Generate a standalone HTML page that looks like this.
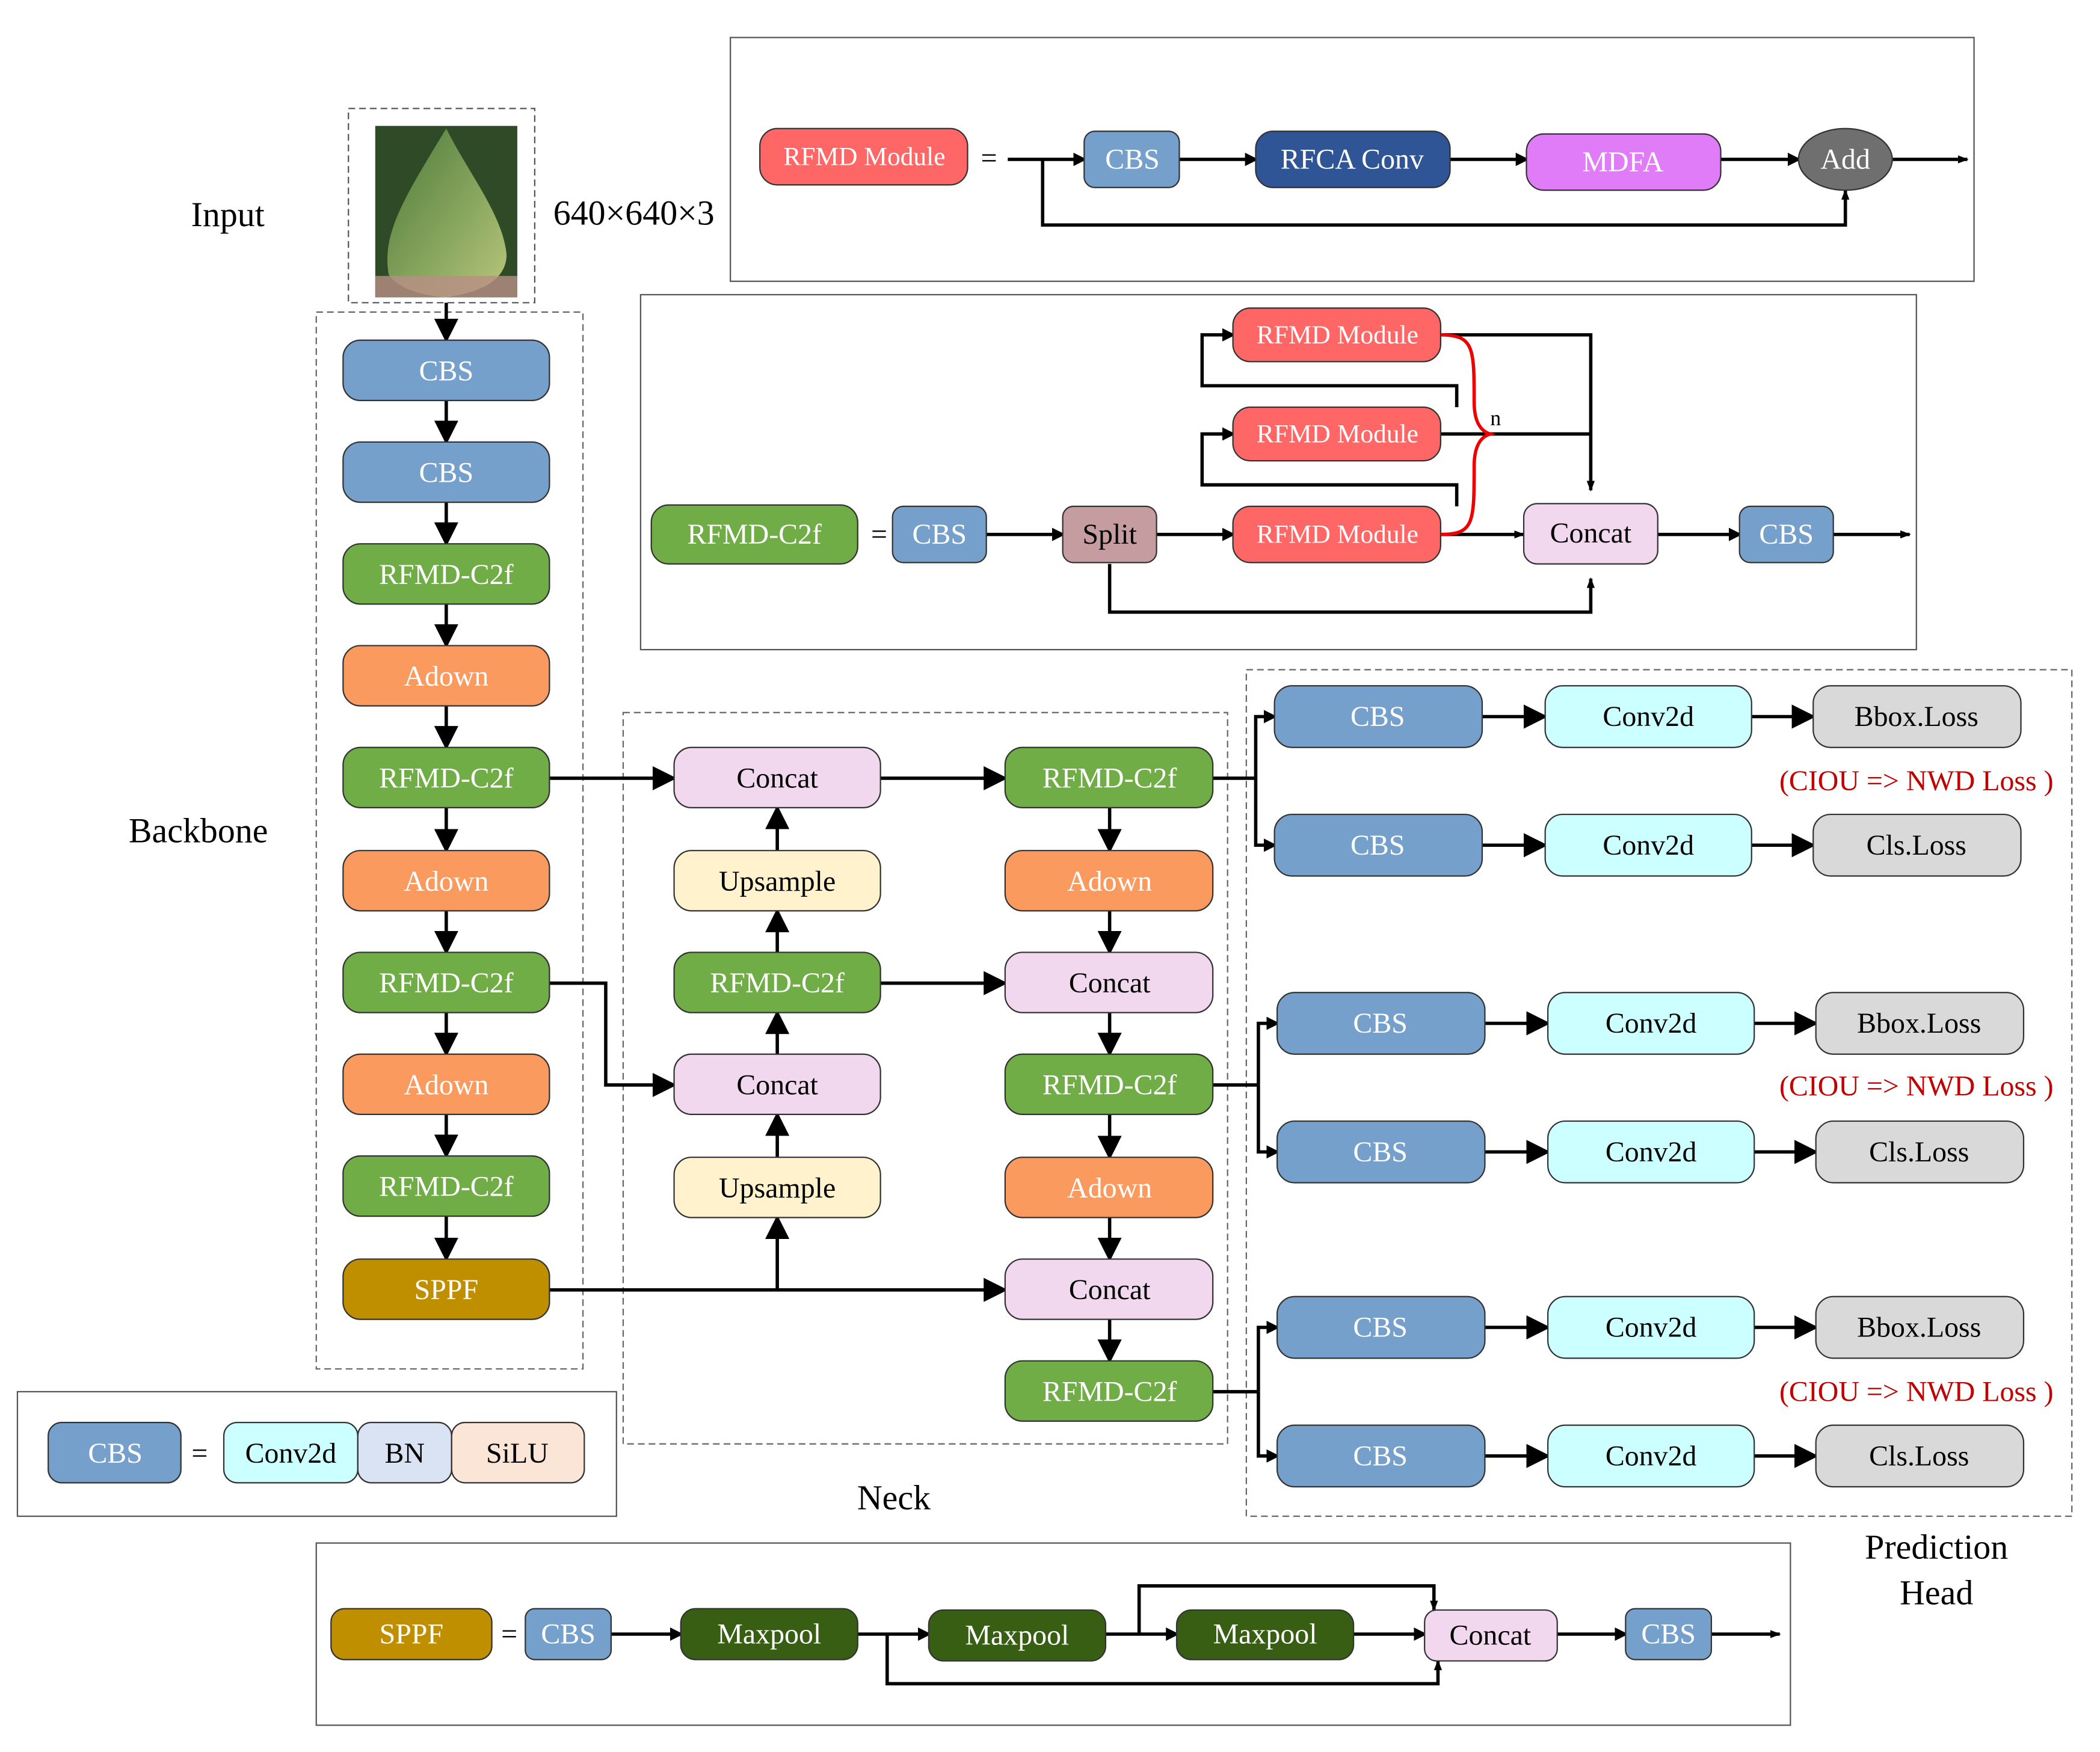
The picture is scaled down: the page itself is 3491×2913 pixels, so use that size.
<!DOCTYPE html>
<html><head><meta charset="utf-8"><style>
html,body{margin:0;padding:0;background:#fff;}
svg{display:block;}
text{font-family:"Liberation Serif",serif;}
</style></head><body>
<svg width="3491" height="2913" viewBox="0 0 1567 1308" preserveAspectRatio="none" xmlns="http://www.w3.org/2000/svg">
<defs>
<marker id="a" markerWidth="10" markerHeight="10" refX="8" refY="5" orient="auto" markerUnits="userSpaceOnUse"><path d="M0,0 L10,5 L0,10 z" fill="#000"/></marker>
<marker id="b" markerWidth="18" markerHeight="18" refX="16" refY="9" orient="auto" markerUnits="userSpaceOnUse"><path d="M0,0 L18,9 L0,18 z" fill="#000"/></marker>
<marker id="s" markerWidth="8" markerHeight="8" refX="7" refY="4" orient="auto" markerUnits="userSpaceOnUse"><path d="M0,1 L8,4 L0,7 z" fill="#000"/></marker>
<linearGradient id="leaf" x1="0" y1="0" x2="1" y2="1"><stop offset="0" stop-color="#4a7a3a"/><stop offset="1" stop-color="#b8c77a"/></linearGradient>
</defs>
<g font-size="21.5" text-anchor="middle" dominant-baseline="central" stroke-width="1">

<text x="170" y="160" font-size="26">Input</text>
<text x="473" y="159" font-size="26">640×640×3</text>
<text x="148" y="620" font-size="26">Backbone</text>
<text x="667" y="1118" font-size="26">Neck</text>
<text x="1445" y="1155" font-size="26">Prediction</text>
<text x="1445" y="1189" font-size="26">Head</text>

<rect x="260" y="81" width="139" height="145" fill="none" stroke="#555" stroke-dasharray="5,3"/>
<rect x="280" y="94" width="106" height="128" fill="#2f4a26"/>
<path d="M333,96 C300,150 285,175 290,205 C300,220 330,222 333,222 C345,220 378,215 378,190 C375,160 350,130 333,96 z" fill="url(#leaf)"/>
<rect x="280" y="206" width="106" height="16" fill="#b98f86" opacity="0.8"/>

<rect x="236" y="233" width="199" height="789" fill="none" stroke="#666" stroke-dasharray="5,3"/>
<rect x="465" y="532" width="451" height="546" fill="none" stroke="#666" stroke-dasharray="5,3"/>
<rect x="930" y="500" width="616" height="632" fill="none" stroke="#666" stroke-dasharray="5,3"/>

<rect x="545" y="28" width="928" height="182" fill="none" stroke="#555"/>
<rect x="478" y="220" width="952" height="265" fill="none" stroke="#555"/>
<rect x="13" y="1039" width="447" height="93" fill="none" stroke="#555"/>
<rect x="236" y="1152" width="1100" height="136" fill="none" stroke="#555"/>

<g stroke="#000" stroke-width="2.5" fill="none">
<line x1="333" y1="226" x2="333" y2="254" marker-end="url(#b)"/>
<line x1="333" y1="299" x2="333" y2="330" marker-end="url(#b)"/>
<line x1="333" y1="375" x2="333" y2="406" marker-end="url(#b)"/>
<line x1="333" y1="451" x2="333" y2="482" marker-end="url(#b)"/>
<line x1="333" y1="527" x2="333" y2="558" marker-end="url(#b)"/>
<line x1="333" y1="603" x2="333" y2="635" marker-end="url(#b)"/>
<line x1="333" y1="680" x2="333" y2="711" marker-end="url(#b)"/>
<line x1="333" y1="756" x2="333" y2="787" marker-end="url(#b)"/>
<line x1="333" y1="832" x2="333" y2="863" marker-end="url(#b)"/>
<line x1="333" y1="908" x2="333" y2="940" marker-end="url(#b)"/>
<line x1="410" y1="581" x2="503" y2="581" marker-end="url(#b)"/>
<line x1="657" y1="581" x2="750" y2="581" marker-end="url(#b)"/>
<line x1="580" y1="635" x2="580" y2="603" marker-end="url(#b)"/>
<line x1="580" y1="711" x2="580" y2="680" marker-end="url(#b)"/>
<line x1="657" y1="734" x2="750" y2="734" marker-end="url(#b)"/>
<line x1="580" y1="787" x2="580" y2="756" marker-end="url(#b)"/>
<line x1="580" y1="864" x2="580" y2="832" marker-end="url(#b)"/>
<polyline points="410,734 452,734 452,810 503,810" marker-end="url(#b)"/>
<line x1="410" y1="963" x2="750" y2="963" marker-end="url(#b)"/>
<line x1="580" y1="963" x2="580" y2="909" marker-end="url(#b)"/>
<line x1="828" y1="603" x2="828" y2="635" marker-end="url(#b)"/>
<line x1="828" y1="680" x2="828" y2="711" marker-end="url(#b)"/>
<line x1="828" y1="756" x2="828" y2="787" marker-end="url(#b)"/>
<line x1="828" y1="832" x2="828" y2="864" marker-end="url(#b)"/>
<line x1="828" y1="909" x2="828" y2="940" marker-end="url(#b)"/>
<line x1="828" y1="985" x2="828" y2="1016" marker-end="url(#b)"/>
<polyline points="905,581 937,581"/>
<polyline points="937,581 937,535 951,535" marker-end="url(#a)"/>
<polyline points="937,581 937,631 951,631" marker-end="url(#a)"/>
<polyline points="905,810 939,810"/>
<polyline points="939,810 939,764 953,764" marker-end="url(#a)"/>
<polyline points="939,810 939,860 953,860" marker-end="url(#a)"/>
<polyline points="905,1039 939,1039"/>
<polyline points="939,1039 939,991 953,991" marker-end="url(#a)"/>
<polyline points="939,1039 939,1087 953,1087" marker-end="url(#a)"/>
<line x1="1106" y1="535" x2="1153" y2="535" marker-end="url(#b)"/>
<line x1="1307" y1="535" x2="1353" y2="535" marker-end="url(#b)"/>
<line x1="1106" y1="631" x2="1153" y2="631" marker-end="url(#b)"/>
<line x1="1307" y1="631" x2="1353" y2="631" marker-end="url(#b)"/>
<line x1="1108" y1="764" x2="1155" y2="764" marker-end="url(#b)"/>
<line x1="1309" y1="764" x2="1355" y2="764" marker-end="url(#b)"/>
<line x1="1108" y1="860" x2="1155" y2="860" marker-end="url(#b)"/>
<line x1="1309" y1="860" x2="1355" y2="860" marker-end="url(#b)"/>
<line x1="1108" y1="991" x2="1155" y2="991" marker-end="url(#b)"/>
<line x1="1309" y1="991" x2="1355" y2="991" marker-end="url(#b)"/>
<line x1="1108" y1="1087" x2="1155" y2="1087" marker-end="url(#b)"/>
<line x1="1309" y1="1087" x2="1355" y2="1087" marker-end="url(#b)"/>
<line x1="752" y1="119" x2="809" y2="119" marker-end="url(#a)"/>
<line x1="880" y1="119" x2="937" y2="119" marker-end="url(#a)"/>
<line x1="1082" y1="119" x2="1139" y2="119" marker-end="url(#a)"/>
<line x1="1284" y1="119" x2="1342" y2="119" marker-end="url(#a)"/>
<line x1="1412" y1="119" x2="1468" y2="119" marker-end="url(#s)"/>
<polyline points="778,119 778,168 1377,168 1377,142" marker-end="url(#s)"/>
<line x1="736" y1="399" x2="793" y2="399" marker-end="url(#a)"/>
<line x1="863" y1="399" x2="920" y2="399" marker-end="url(#a)"/>
<line x1="1075" y1="399" x2="1137" y2="399" marker-end="url(#s)"/>
<line x1="1237" y1="399" x2="1298" y2="399" marker-end="url(#a)"/>
<line x1="1368" y1="399" x2="1425" y2="399" marker-end="url(#s)"/>
<polyline points="828,421 828,457 1187,457 1187,432" marker-end="url(#s)"/>
<polyline points="1075,250 1187,250 1187,366" marker-end="url(#s)"/>
<line x1="1075" y1="324" x2="1187" y2="324"/>
<polyline points="1087,304 1087,288 897,288 897,250 920,250" marker-end="url(#a)"/>
<polyline points="1087,378 1087,362 897,362 897,324 920,324" marker-end="url(#a)"/>
<line x1="456" y1="1220" x2="508" y2="1220" marker-end="url(#a)"/>
<line x1="640" y1="1220" x2="693" y2="1220" marker-end="url(#a)"/>
<line x1="825" y1="1220" x2="878" y2="1220" marker-end="url(#a)"/>
<line x1="1010" y1="1220" x2="1063" y2="1220" marker-end="url(#a)"/>
<line x1="1162" y1="1220" x2="1213" y2="1220" marker-end="url(#a)"/>
<line x1="1277" y1="1220" x2="1328" y2="1220" marker-end="url(#s)"/>
<polyline points="850,1220 850,1184 1070,1184 1070,1202" marker-end="url(#s)"/>
<polyline points="662,1220 662,1257 1073,1257 1073,1240" marker-end="url(#s)"/>
</g>
<path d="M1075,250 C1100,250 1100,260 1100,300 C1100,315 1105,322 1112,324 C1105,326 1100,333 1100,348 C1100,390 1100,399 1075,399" fill="none" stroke="#e00" stroke-width="2.5"/>
<text x="1116" y="312" font-size="16">n</text>

<g stroke="#333">
<rect x="256" y="254" width="154" height="45" rx="13" fill="#75a0cb"/>
<rect x="256" y="330" width="154" height="45" rx="13" fill="#75a0cb"/>
<rect x="256" y="406" width="154" height="45" rx="13" fill="#70ad47"/>
<rect x="256" y="482" width="154" height="45" rx="13" fill="#fa9a5f"/>
<rect x="256" y="558" width="154" height="45" rx="13" fill="#70ad47"/>
<rect x="256" y="635" width="154" height="45" rx="13" fill="#fa9a5f"/>
<rect x="256" y="711" width="154" height="45" rx="13" fill="#70ad47"/>
<rect x="256" y="787" width="154" height="45" rx="13" fill="#fa9a5f"/>
<rect x="256" y="863" width="154" height="45" rx="13" fill="#70ad47"/>
<rect x="256" y="940" width="154" height="45" rx="13" fill="#bf8f00"/>
<rect x="503" y="558" width="154" height="45" rx="13" fill="#f2d8ee"/>
<rect x="503" y="635" width="154" height="45" rx="13" fill="#fff2cc"/>
<rect x="503" y="711" width="154" height="45" rx="13" fill="#70ad47"/>
<rect x="503" y="787" width="154" height="45" rx="13" fill="#f2d8ee"/>
<rect x="503" y="864" width="154" height="45" rx="13" fill="#fff2cc"/>
<rect x="750" y="558" width="155" height="45" rx="13" fill="#70ad47"/>
<rect x="750" y="635" width="155" height="45" rx="13" fill="#fa9a5f"/>
<rect x="750" y="711" width="155" height="45" rx="13" fill="#f2d8ee"/>
<rect x="750" y="787" width="155" height="45" rx="13" fill="#70ad47"/>
<rect x="750" y="864" width="155" height="45" rx="13" fill="#fa9a5f"/>
<rect x="750" y="940" width="155" height="45" rx="13" fill="#f2d8ee"/>
<rect x="750" y="1016" width="155" height="45" rx="13" fill="#70ad47"/>
<rect x="951" y="512" width="155" height="46" rx="13" fill="#75a0cb"/>
<rect x="1153" y="512" width="154" height="46" rx="13" fill="#ccffff"/>
<rect x="1353" y="512" width="155" height="46" rx="13" fill="#d9d9d9"/>
<rect x="951" y="608" width="155" height="46" rx="13" fill="#75a0cb"/>
<rect x="1153" y="608" width="154" height="46" rx="13" fill="#ccffff"/>
<rect x="1353" y="608" width="155" height="46" rx="13" fill="#d9d9d9"/>
<rect x="953" y="741" width="155" height="46" rx="13" fill="#75a0cb"/>
<rect x="1155" y="741" width="154" height="46" rx="13" fill="#ccffff"/>
<rect x="1355" y="741" width="155" height="46" rx="13" fill="#d9d9d9"/>
<rect x="953" y="837" width="155" height="46" rx="13" fill="#75a0cb"/>
<rect x="1155" y="837" width="154" height="46" rx="13" fill="#ccffff"/>
<rect x="1355" y="837" width="155" height="46" rx="13" fill="#d9d9d9"/>
<rect x="953" y="968" width="155" height="46" rx="13" fill="#75a0cb"/>
<rect x="1155" y="968" width="154" height="46" rx="13" fill="#ccffff"/>
<rect x="1355" y="968" width="155" height="46" rx="13" fill="#d9d9d9"/>
<rect x="953" y="1064" width="155" height="46" rx="13" fill="#75a0cb"/>
<rect x="1155" y="1064" width="154" height="46" rx="13" fill="#ccffff"/>
<rect x="1355" y="1064" width="155" height="46" rx="13" fill="#d9d9d9"/>
<rect x="567" y="96" width="155" height="42" rx="13" fill="#ff6666"/>
<rect x="809" y="98" width="71" height="42" rx="8" fill="#75a0cb"/>
<rect x="937" y="98" width="145" height="42" rx="13" fill="#2f5597"/>
<rect x="1139" y="100" width="145" height="42" rx="13" fill="#e07cf8"/>
<ellipse cx="1377" cy="119" rx="35" ry="23" fill="#6f6f6f"/>
<rect x="486" y="377" width="154" height="44" rx="13" fill="#70ad47"/>
<rect x="666" y="378" width="70" height="42" rx="8" fill="#75a0cb"/>
<rect x="793" y="378" width="70" height="42" rx="8" fill="#c59ca0"/>
<rect x="920" y="230" width="155" height="40" rx="13" fill="#ff6666"/>
<rect x="920" y="304" width="155" height="40" rx="13" fill="#ff6666"/>
<rect x="920" y="378" width="155" height="42" rx="13" fill="#ff6666"/>
<rect x="1137" y="376" width="100" height="45" rx="10" fill="#f2d8ee"/>
<rect x="1298" y="378" width="70" height="42" rx="8" fill="#75a0cb"/>
<rect x="36" y="1062" width="99" height="45" rx="10" fill="#75a0cb"/>
<rect x="167" y="1062" width="100" height="45" rx="10" fill="#ccffff"/>
<rect x="267" y="1062" width="70" height="45" rx="10" fill="#dae3f3"/>
<rect x="337" y="1062" width="99" height="45" rx="10" fill="#fbe5d6"/>
<rect x="247" y="1201" width="120" height="38" rx="10" fill="#bf8f00"/>
<rect x="392" y="1201" width="64" height="38" rx="7" fill="#75a0cb"/>
<rect x="508" y="1201" width="132" height="38" rx="11" fill="#385e14"/>
<rect x="693" y="1202" width="132" height="38" rx="11" fill="#385e14"/>
<rect x="878" y="1202" width="132" height="37" rx="11" fill="#385e14"/>
<rect x="1063" y="1202" width="99" height="38" rx="9" fill="#f2d8ee"/>
<rect x="1213" y="1201" width="64" height="38" rx="7" fill="#75a0cb"/>
</g>

<g fill="#fff">
<text x="333" y="277">CBS</text><text x="333" y="353">CBS</text>
<text x="333" y="429">RFMD-C2f</text><text x="333" y="505">Adown</text>
<text x="333" y="581">RFMD-C2f</text><text x="333" y="658">Adown</text>
<text x="333" y="734">RFMD-C2f</text><text x="333" y="810">Adown</text>
<text x="333" y="886">RFMD-C2f</text><text x="333" y="963">SPPF</text>
<text x="580" y="734">RFMD-C2f</text>
<text x="828" y="581">RFMD-C2f</text><text x="828" y="658">Adown</text>
<text x="828" y="810">RFMD-C2f</text><text x="828" y="887">Adown</text>
<text x="828" y="1039">RFMD-C2f</text>
<text x="1028" y="535">CBS</text><text x="1028" y="631">CBS</text>
<text x="1030" y="764">CBS</text><text x="1030" y="860">CBS</text>
<text x="1030" y="991">CBS</text><text x="1030" y="1087">CBS</text>
<text x="645" y="117" font-size="19.5">RFMD Module</text>
<text x="845" y="119">CBS</text>
<text x="1009" y="119">RFCA Conv</text>
<text x="1211" y="121">MDFA</text>
<text x="1377" y="119">Add</text>
<text x="563" y="399">RFMD-C2f</text>
<text x="701" y="399">CBS</text>
<text x="998" y="250" font-size="19.5">RFMD Module</text>
<text x="998" y="324" font-size="19.5">RFMD Module</text>
<text x="998" y="399" font-size="19.5">RFMD Module</text>
<text x="1333" y="399">CBS</text>
<text x="86" y="1085">CBS</text>
<text x="307" y="1220">SPPF</text><text x="424" y="1220">CBS</text>
<text x="574" y="1220">Maxpool</text><text x="759" y="1221">Maxpool</text><text x="944" y="1220">Maxpool</text>
<text x="1245" y="1220">CBS</text>
</g>
<g fill="#000">
<text x="580" y="581">Concat</text><text x="580" y="658">Upsample</text>
<text x="580" y="810">Concat</text><text x="580" y="887">Upsample</text>
<text x="828" y="734">Concat</text><text x="828" y="963">Concat</text>
<text x="1230" y="535">Conv2d</text><text x="1430" y="535">Bbox.Loss</text>
<text x="1230" y="631">Conv2d</text><text x="1430" y="631">Cls.Loss</text>
<text x="1232" y="764">Conv2d</text><text x="1432" y="764">Bbox.Loss</text>
<text x="1232" y="860">Conv2d</text><text x="1432" y="860">Cls.Loss</text>
<text x="1232" y="991">Conv2d</text><text x="1432" y="991">Bbox.Loss</text>
<text x="1232" y="1087">Conv2d</text><text x="1432" y="1087">Cls.Loss</text>
<text x="738" y="118">=</text>
<text x="828" y="399">Split</text>
<text x="656" y="399">=</text>
<text x="1187" y="398">Concat</text>
<text x="149" y="1085">=</text>
<text x="217" y="1085">Conv2d</text><text x="302" y="1085">BN</text><text x="386" y="1085">SiLU</text>
<text x="380" y="1220">=</text>
<text x="1112" y="1221">Concat</text>
</g>
<g fill="#c00000">
<text x="1430" y="583">(CIOU =&gt; NWD Loss )</text>
<text x="1430" y="811">(CIOU =&gt; NWD Loss )</text>
<text x="1430" y="1039">(CIOU =&gt; NWD Loss )</text>
</g>
</g>
</svg>
</body></html>
